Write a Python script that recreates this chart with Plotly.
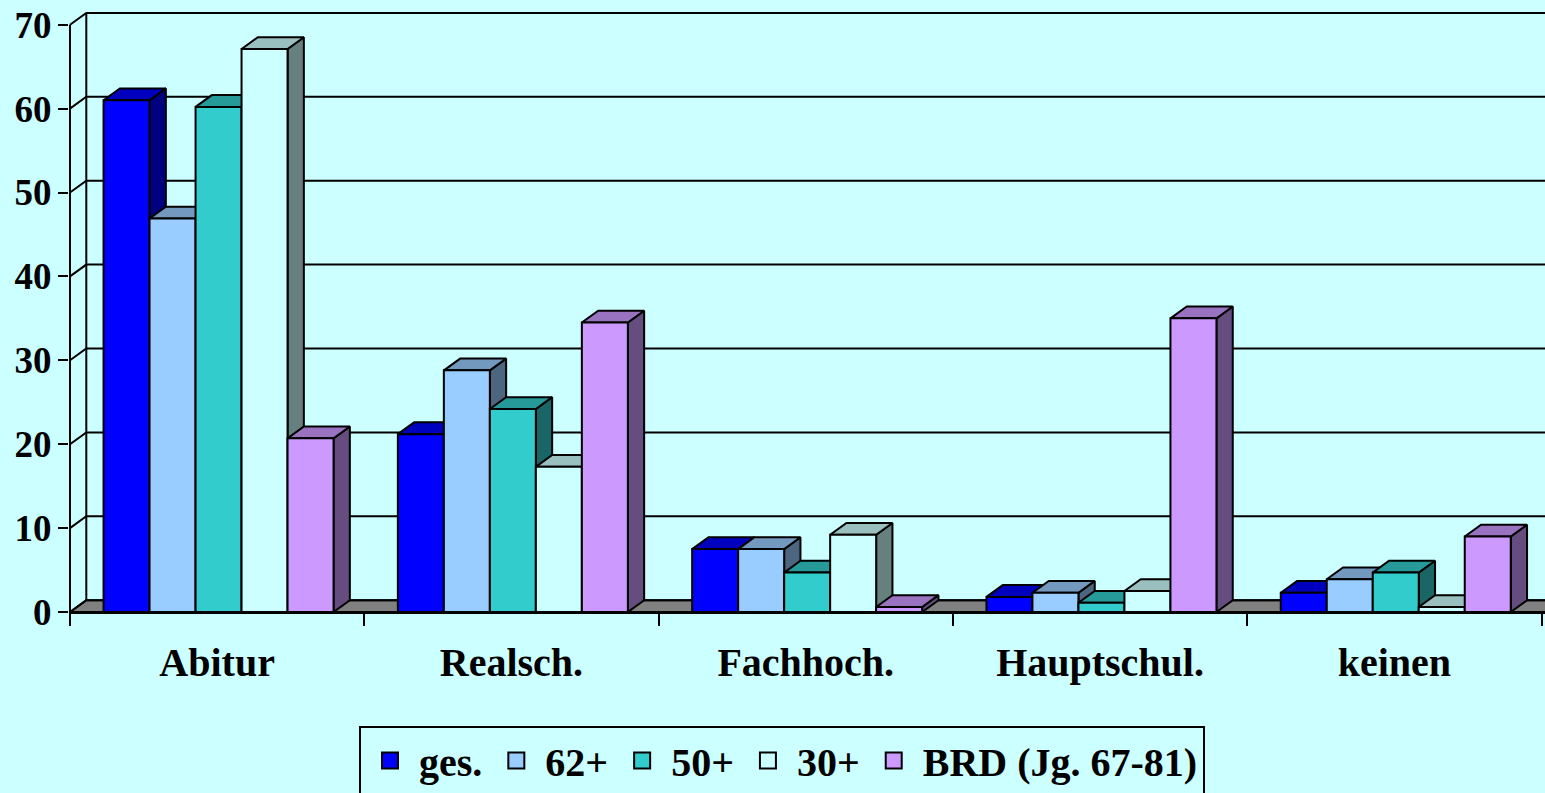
import plotly.graph_objects as go

# ---------------- data ----------------
categories = ["Abitur", "Realsch.", "Fachhoch.", "Hauptschul.", "keinen"]
series_names = ["ges.", "62+", "50+", "30+", "BRD (Jg. 67-81)"]
ges = [61.0, 21.2, 7.5, 1.8, 2.3]
p62 = [46.9, 28.8, 7.5, 2.3, 3.9]
p50 = [60.2, 24.2, 4.7, 1.1, 4.7]
p30 = [67.1, 17.3, 9.2, 2.5, 0.6]
brd = [20.7, 34.5, 0.6, 35.0, 9.0]
y_ticks = [0, 10, 20, 30, 40, 50, 60, 70]

front_colors = ["#0000FF", "#99CCFF", "#33CCCC", "#CCFFFF", "#CC99FF"]
top_colors = ["#0000BF", "#7399BF", "#269999", "#99BFBF", "#9973BF"]
side_colors = ["#000080", "#4D6680", "#1A6666", "#668080", "#664D80"]

values = [ges, p62, p50, p30, brd]

# ---------------- geometry (styling) ----------------
PX_PER_CAT = 294.3
PX_PER_UNIT = 8.39
BAR_W = 46.0 / PX_PER_CAT
GROUP_LEFT = -0.386
DX = 16.3 / PX_PER_CAT
DY = 11.8 / PX_PER_UNIT
X_MIN = -0.5 - 1.0 / PX_PER_CAT
X_MAX = X_MIN + (1545 - 69) / PX_PER_CAT
Y_MAX = 612 / PX_PER_UNIT
FONT = "Liberation Serif"
BG = "#CCFFFF"

fig = go.Figure()

# floor
fx = [-0.5, X_MAX + 0.2, X_MAX + 0.2, -0.5 + DX, -0.5]
fy = [0, 0, DY, DY, 0]
fig.add_trace(go.Scatter(x=fx, y=fy, fill="toself", fillcolor="#808080", mode="lines",
                         line=dict(color="black", width=2), hoverinfo="skip", showlegend=False))

# back wall grid, diagonals, wall edge, front axis
gx, gy = [], []
for v in y_ticks:
    gx += [-0.5, -0.5 + DX, X_MAX + 0.2, None]
    gy += [v, v + DY, v + DY, None]
gx += [-0.5 + DX, -0.5 + DX, None, -0.5, -0.5, None]
gy += [DY, y_ticks[-1] + DY, None, 0, y_ticks[-1], None]
fig.add_trace(go.Scatter(x=gx, y=gy, mode="lines", line=dict(color="black", width=2),
                         hoverinfo="skip", showlegend=False))

# 3D bars: side, top, front per series (painter's order left->right)
for s, vals in enumerate(values):
    sx, sy, tx, ty, fxs, fys = [], [], [], [], [], []
    for i, v in enumerate(vals):
        x0 = i + GROUP_LEFT + s * BAR_W
        x1 = x0 + BAR_W
        sx += [x1, x1 + DX, x1 + DX, x1, x1, None]
        sy += [0, DY, v + DY, v, 0, None]
        tx += [x0, x0 + DX, x1 + DX, x1, x0, None]
        ty += [v, v + DY, v + DY, v, v, None]
        fxs += [x0, x0, x1, x1, x0, None]
        fys += [0, v, v, 0, 0, None]
    fig.add_trace(go.Scatter(x=sx, y=sy, fill="toself", fillcolor=side_colors[s], mode="lines",
                             line=dict(color="black", width=2), hoverinfo="skip", showlegend=False))
    fig.add_trace(go.Scatter(x=tx, y=ty, fill="toself", fillcolor=top_colors[s], mode="lines",
                             line=dict(color="black", width=2), hoverinfo="skip", showlegend=False))
    fig.add_trace(go.Scatter(x=fxs, y=fys, fill="toself", fillcolor=front_colors[s], mode="lines",
                             line=dict(color="black", width=2), name=series_names[s],
                             hoverinfo="skip", showlegend=False))

# legend entries
for s, name in enumerate(series_names):
    fig.add_trace(go.Scatter(x=[None], y=[None], mode="markers", name=name,
                             marker=dict(symbol="square", size=16, color=front_colors[s],
                                         line=dict(color="black", width=2))))

fig.update_layout(
    width=1545, height=793,
    margin=dict(l=69, r=0, t=0, b=181, pad=0),
    paper_bgcolor=BG, plot_bgcolor=BG,
    font=dict(family=FONT, color="black"),
    showlegend=True,
    legend=dict(orientation="h", xref="container", yref="container",
                x=782 / 1545, xanchor="center", y=1 - 726 / 793, yanchor="top",
                bgcolor=BG, bordercolor="black", borderwidth=2, itemwidth=48,
                font=dict(family=FONT, size=40, color="black", weight="bold"),
                itemclick=False, itemdoubleclick=False),
    xaxis=dict(range=[X_MIN, X_MAX], tickmode="array", tickvals=list(range(len(categories))),
               ticktext=categories, ticks="", showgrid=False, zeroline=False,
               showline=True, linecolor="black", linewidth=2,
               tickfont=dict(family=FONT, size=40, color="black", weight="bold"),
               ticklabelstandoff=14,
               minor=dict(tickmode="array", tickvals=[i - 0.5 for i in range(len(categories) + 1)],
                          ticks="outside", ticklen=12, tickwidth=2, tickcolor="black", showgrid=False),
               fixedrange=True),
    yaxis=dict(range=[0, Y_MAX], tickmode="array", tickvals=y_ticks, ticks="outside",
               ticklen=10, tickwidth=2, tickcolor="black", showgrid=False, zeroline=False,
               showline=False, ticklabelstandoff=-1,
               tickfont=dict(family=FONT, size=37, color="black", weight="bold"),
               fixedrange=True),
)

fig.write_html("out.html", config={"displayModeBar": False},
               post_script="document.body.style.margin='0px';")
